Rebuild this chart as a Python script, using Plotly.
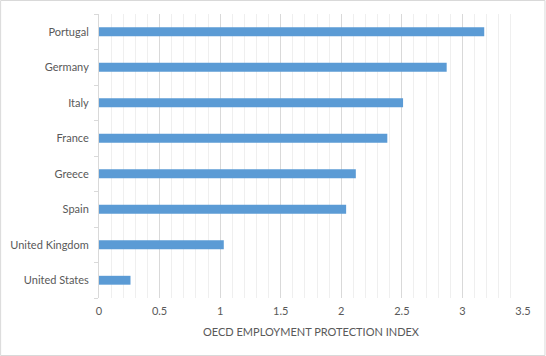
import plotly.graph_objects as go

countries = ["United States", "United Kingdom", "Spain", "Greece", "France", "Italy", "Germany", "Portugal"]
values = [0.26, 1.03, 2.04, 2.12, 2.38, 2.51, 2.87, 3.18]
x_title = "OECD EMPLOYMENT PROTECTION INDEX"

W, H = 546, 356
L, R, T, B = 99, 22.5, 14, 58
pw = W - L - R
ph = H - T - B

fig = go.Figure(go.Bar(
    x=values, y=countries, orientation="h",
    marker=dict(color="#5b9bd5", line=dict(width=0)),
))

font_color = "#595959"
FONT = "Lato"
FS = 11
fig.update_layout(
    width=W, height=H,
    margin=dict(l=L, r=R, t=T, b=B, autoexpand=False),
    paper_bgcolor="white", plot_bgcolor="white",
    bargap=0.75,
    showlegend=False,
    font=dict(family=FONT, size=FS, color=font_color),
    xaxis=dict(
        range=[0, 3.5], dtick=0.5, tick0=0,
        showgrid=True, gridcolor="#d9d9d9", gridwidth=1,
        minor=dict(dtick=0.1, tick0=0, showgrid=True, gridcolor="#efefef", gridwidth=1),
        zeroline=False, showline=False, ticks="",
        automargin=False,
        ticklabelstandoff=5,
        tickfont=dict(size=FS, color=font_color),
        title=dict(text=x_title, font=dict(size=FS, color=font_color), standoff=12),
    ),
    yaxis=dict(
        showgrid=False, zeroline=False, automargin=False,
        showline=True, linecolor="#d9d9d9", linewidth=1,
        ticks="outside", tickson="boundaries", ticklen=4, tickcolor="#d9d9d9",
        tickfont=dict(size=FS, color=font_color),
        ticklabelstandoff=7,
    ),
    shapes=[dict(
        type="rect", xref="paper", yref="paper",
        x0=-L / pw + 0.5 / pw, x1=1 + R / pw - 0.5 / pw,
        y0=-B / ph + 0.5 / ph, y1=1 + T / ph - 0.5 / ph,
        line=dict(color="#d9d9d9", width=1), fillcolor="rgba(0,0,0,0)", layer="above",
    )],
)

fig.write_html("out.html", config={"displayModeBar": False},
               post_script="document.body.style.margin='0px';")
